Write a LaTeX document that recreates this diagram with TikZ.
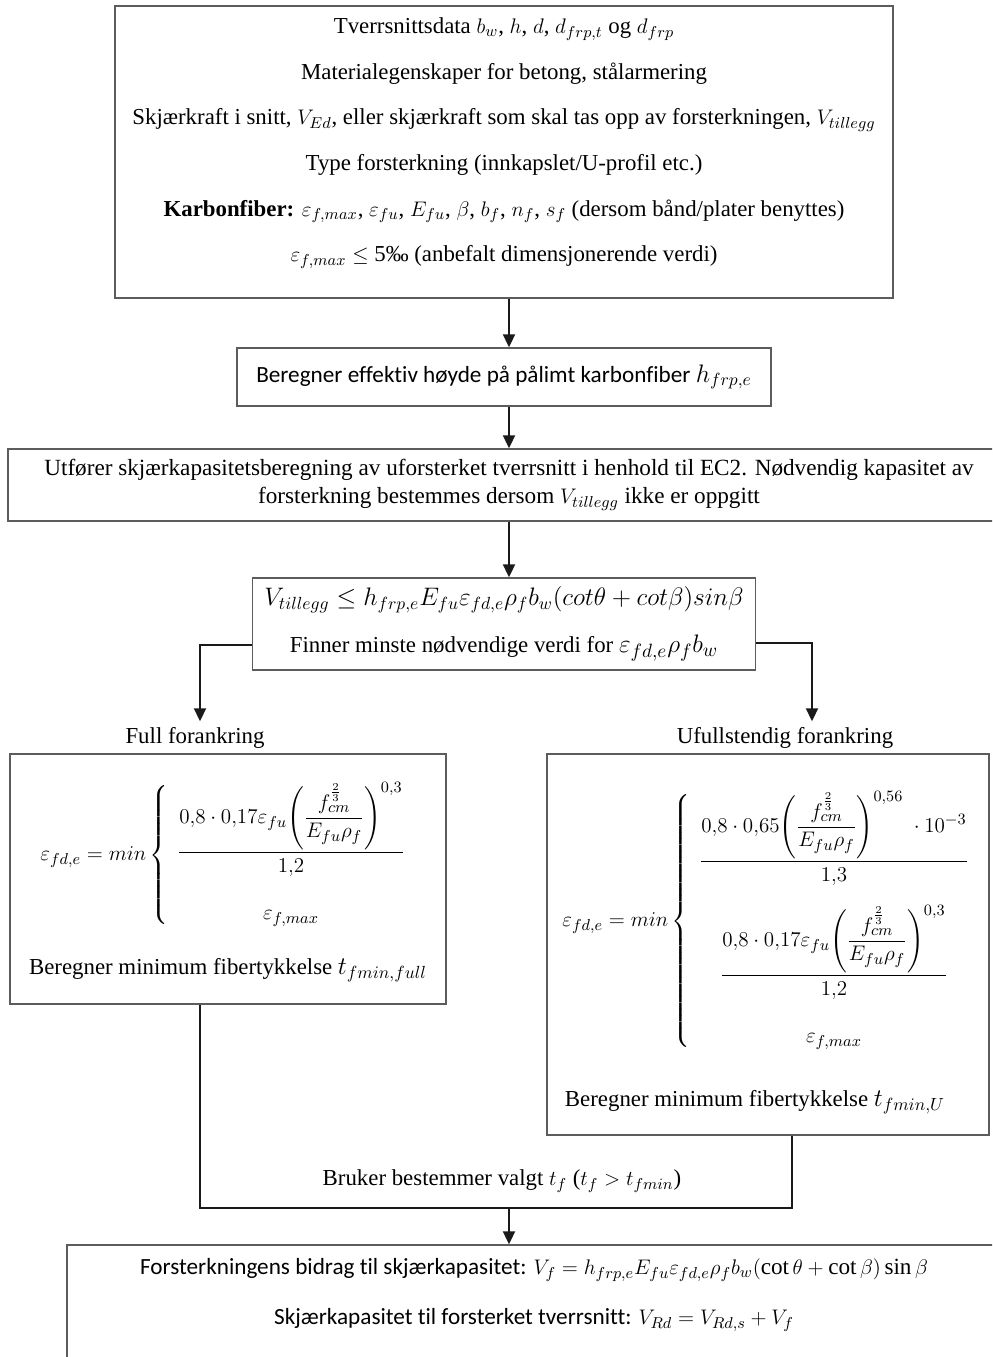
\documentclass[tikz,border=0pt]{standalone}
\usepackage{amsmath}
\usepackage{fontspec}
\setmainfont{Liberation Serif}
\newfontfamily\calfont{Carlito}[Ligatures=NoCommon]
\usetikzlibrary{arrows.meta,calc,positioning}
\definecolor{Ink}{HTML}{1A1A1A}
\definecolor{Frame}{HTML}{5C5C5C}
\tikzset{
  stepbox/.style={
    draw=Frame, line width=0.8pt, fill=white, inner sep=0pt, align=center
  },
  body/.style={align=center, font=\fontsize{13}{26}\selectfont},
  formula/.style={align=center, font=\fontsize{13}{16}\selectfont},
  flow/.style={-{Triangle[length=2.6mm,width=2.4mm]}, line width=1.1pt, draw=Ink},
  link/.style={line width=1.1pt, draw=Ink}
}

\begin{document}
\begin{tikzpicture}[x=0.02cm,y=-0.02cm]
    \useasboundingbox (0,0) rectangle (992,1357);
    \clip (0,0) rectangle (992,1357);
    \coordinate (spine) at (509,0);

    % inndata
    \node[stepbox,minimum width=15.56cm,minimum height=5.84cm] (input) at (504,152) {};
    \node[body] (inputtext) at (504,143) {%
      Tverrsnittsdata $b_w$, $h$, $d$, $d_{frp,t}$ og $d_{frp}$\\
      Materialegenskaper for betong, stålarmering\\
      Skjærkraft i snitt, $V_{Ed}$, eller skjærkraft som skal tas opp av forsterkningen, $V_{tillegg}$\\
      Type forsterkning (innkapslet/U-profil etc.)\\
      \textbf{Karbonfiber:} $\varepsilon_{f,max}$, $\varepsilon_{fu}$, $E_{fu}$, $\beta$, $b_f$, $n_f$, $s_f$ (dersom bånd/plater benyttes)\\
      $\varepsilon_{f,max}\leq$ 5‰ (anbefalt dimensjonerende verdi)};

    \node[stepbox,minimum width=10.68cm,minimum height=1.16cm,font=\calfont\fontsize{13.2}{15}\selectfont] (hfrp) at (504,377)
      {Beregner effektiv høyde på pålimt karbonfiber {\fontsize{14.5}{15}\selectfont$h_{frp,e}$}};
    \node[stepbox,minimum width=20.04cm,minimum height=1.44cm,font=\fontsize{13.2}{15.9}\selectfont] (uforst) at (509,485)
      {Utfører skjærkapasitetsberegning av uforsterket tverrsnitt i henhold til EC2. Nødvendig kapasitet av\\
       forsterkning bestemmes dersom $V_{tillegg}$ ikke er oppgitt};
    \node[stepbox,minimum width=10.06cm,minimum height=1.84cm,font=\fontsize{13}{26.6}\selectfont] (cond) at (504,624)
      {{\fontsize{14.8}{15}\selectfont$V_{tillegg}\leq h_{frp,e}E_{fu}\varepsilon_{fd,e}\rho_f b_w(cot\theta+cot\beta)sin\beta$}\\
       Finner minste nødvendige verdi for {\fontsize{15.5}{15}\selectfont$\varepsilon_{fd,e}\rho_f b_w$}};

    % full forankring
    \node[body] (fulllabel) at (195,738) {Full forankring};
    \node[stepbox,minimum width=8.72cm,minimum height=5cm] (full) at (228,879) {};
    \node[formula] (fulleq) at (228,855) {$\displaystyle
      \varepsilon_{fd,e}=min\left\{\begin{array}{c}
        \dfrac{0{,}8\cdot0{,}17\varepsilon_{fu}\Biggl(\dfrac{f_{cm}^{\frac{2}{3}}}{E_{fu}\rho_f}\Biggr)^{0{,}3}}{1{,}2}\\[3.2ex]
        \varepsilon_{f,max}
      \end{array}\right.$};
    \node[body] (fullmin) at (228,970) {Beregner minimum fibertykkelse {\fontsize{14.5}{15}\selectfont$t_{fmin,full}$}};

    % ufullstendig forankring
    \node[body] (ufulllabel) at (785,738) {Ufullstendig forankring};
    \node[stepbox,minimum width=8.84cm,minimum height=7.62cm] (ufull) at (768,944.5) {};
    \node[formula] (ufulleq) at (771,921) {$\displaystyle
      \varepsilon_{fd,e}=min\left\{\begin{array}{c}
        \dfrac{0{,}8\cdot0{,}65\Biggl(\dfrac{f_{cm}^{\frac{2}{3}}}{E_{fu}\rho_f}\Biggr)^{0{,}56}\;\cdot10^{-3}}{1{,}3}\\[2.8ex]
        \dfrac{0{,}8\cdot0{,}17\varepsilon_{fu}\Biggl(\dfrac{f_{cm}^{\frac{2}{3}}}{E_{fu}\rho_f}\Biggr)^{0{,}3}}{1{,}2}\\[3.2ex]
        \varepsilon_{f,max}
      \end{array}\right.$};
    \node[body] (ufullmin) at (755,1102) {Beregner minimum fibertykkelse {\fontsize{14.5}{15}\selectfont$t_{fmin,U}$}};

    \node[body] (choice) at (502,1181) {Bruker bestemmer valgt $t_f$ ($t_f>t_{fmin}$)};

    % resultat
    \node[stepbox,minimum width=18.86cm,minimum height=3.1cm] (result) at (538.5,1322.5) {};
    \node[align=center,font=\calfont\fontsize{13.2}{28.45}\selectfont] (resulttext) at (534,1295)
      {Forsterkningens bidrag til skjærkapasitet: $V_f=h_{frp,e}E_{fu}\varepsilon_{fd,e}\rho_f b_w(\cot\theta+\cot\beta)\sin\beta$\\
       Skjærkapasitet til forsterket tverrsnitt: $V_{Rd}=V_{Rd,s}+V_f$};

    % piler
    \draw[flow] (input.south -| spine) -- (hfrp.north -| spine);
    \draw[flow] (hfrp.south -| spine) -- (uforst.north -| spine);
    \draw[flow] (uforst.south -| spine) -- (cond.north -| spine);
    \coordinate (splitl) at (200,645);
    \coordinate (splitr) at (812,643);
    \draw[flow] (cond.west |- splitl) -- (splitl) -- (fulllabel.north -| splitl);
    \draw[flow] (cond.east |- splitr) -- (splitr) -- (ufulllabel.north -| splitr);
    \coordinate (mergel) at (200,1208);
    \coordinate (merger) at (792,1208);
    \draw[link] (full.south -| mergel) -- (mergel) -- (merger) -- (ufull.south -| merger);
    \draw[flow] (mergel -| spine) -- (result.north -| spine);
\end{tikzpicture}
\end{document}
